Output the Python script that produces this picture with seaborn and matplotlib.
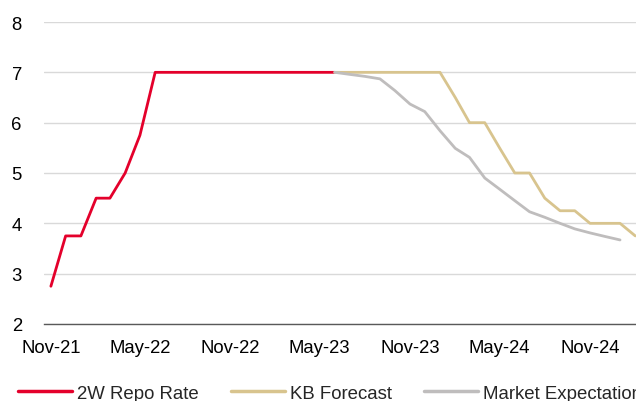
import numpy as np
import pandas as pd
import matplotlib
matplotlib.use("Agg")
import matplotlib.pyplot as plt
import matplotlib.dates as mdates
import matplotlib.transforms as mtransforms
from matplotlib.lines import Line2D
import seaborn as sns

# Data (monthly, mid-month), starting Nov-2021
repo_months = pd.date_range("2021-11-01", periods=20, freq="MS") + pd.Timedelta(days=14)
repo_rate = [2.75, 3.75, 3.75, 4.5, 4.5, 5.0, 5.75, 7.0, 7.0, 7.0,
             7.0, 7.0, 7.0, 7.0, 7.0, 7.0, 7.0, 7.0, 7.0, 7.0]

kb_months = pd.date_range("2023-06-01", periods=21, freq="MS") + pd.Timedelta(days=14)
kb_forecast = [7.0, 7.0, 7.0, 7.0, 7.0, 7.0, 7.0, 7.0, 6.5, 6.0,
               6.0, 5.5, 5.0, 5.0, 4.5, 4.25, 4.25, 4.0, 4.0, 4.0, 3.75]

mkt_months = pd.date_range("2023-06-01", periods=20, freq="MS") + pd.Timedelta(days=14)
mkt_expect = [7.0, 6.96, 6.92, 6.87, 6.64, 6.37, 6.22, 5.84, 5.49, 5.31,
              4.90, 4.68, 4.45, 4.23, 4.12, 4.0, 3.89, 3.81, 3.74, 3.67]

series_names = ["2W Repo Rate", "KB Forecast", "Market Expectation"]
colors = ["#E4002B", "#D8C48E", "#BFBDBD"]

y_ticks = [2, 3, 4, 5, 6, 7, 8]
x_ticks = pd.to_datetime(["2021-11-01", "2022-05-01", "2022-11-01", "2023-05-01",
                          "2023-11-01", "2024-05-01", "2024-11-01"])

df = pd.concat([
    pd.DataFrame({"date": repo_months, "value": repo_rate, "series": series_names[0]}),
    pd.DataFrame({"date": kb_months, "value": kb_forecast, "series": series_names[1]}),
    pd.DataFrame({"date": mkt_months, "value": mkt_expect, "series": series_names[2]}),
])

sns.set_style("white")
plt.rcParams["font.family"] = ["Liberation Sans", "DejaVu Sans"]

fig = plt.figure(figsize=(6.36, 4.02), dpi=100)
# axes extends beyond the right edge (chart is cropped in the reference)
ax = fig.add_axes([44 / 636, (402 - 325) / 402, 640 / 636, (325 - 23) / 402])

sns.lineplot(data=df, x="date", y="value", hue="series", hue_order=series_names,
             palette=colors, linewidth=2.0, ax=ax, legend=False)

ax.set_ylim(2, 8)
ax.set_yticks(y_ticks)
ax.set_xlim(pd.Timestamp("2021-11-01"), pd.Timestamp("2021-11-01") + pd.Timedelta(days=1301))
ax.set_xticks(x_ticks)
ax.xaxis.set_major_formatter(mdates.DateFormatter("%b-%y"))
ax.set_xlabel("")
ax.set_ylabel("")

ax.grid(axis="y", color="#D9D9D9", linewidth=1)
ax.grid(axis="x", visible=False)
for s in ["left", "right", "top"]:
    ax.spines[s].set_visible(False)
ax.spines["bottom"].set_color("#595959")
ax.spines["bottom"].set_linewidth(1)
ax.tick_params(axis="x", which="major", length=4, width=1, color="#595959",
               direction="out", labelsize=13.3, pad=7, labelcolor="#000000")
ax.tick_params(axis="y", length=0, labelsize=13.3, pad=16, labelcolor="#000000")

offset = mtransforms.ScaledTranslation(7 / 100, 0, fig.dpi_scale_trans)
for lbl in ax.get_xticklabels():
    lbl.set_transform(lbl.get_transform() + offset)

handles = [Line2D([0], [0], color=c, linewidth=2.5) for c in colors]
fig.legend(handles, series_names, loc="center left", bbox_to_anchor=(18 / 636, 1 - 394 / 402),
           ncol=3, frameon=False, fontsize=13.4, handlelength=2.9, handletextpad=0.25,
           columnspacing=1.75, borderaxespad=0, borderpad=0)

fig.savefig("out.png", dpi=100)
